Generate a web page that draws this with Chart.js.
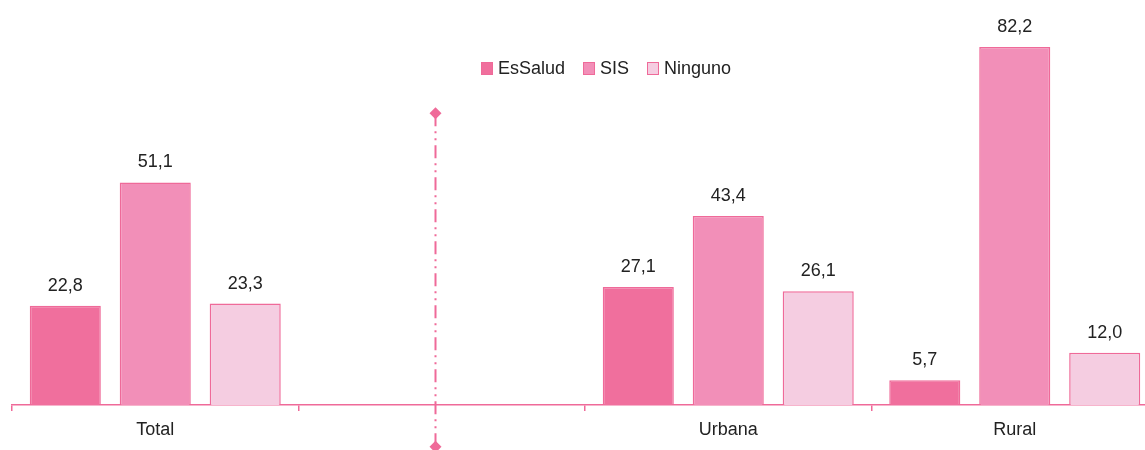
<!DOCTYPE html>
<html>
<head>
<meta charset="utf-8">
<script src="https://cdn.jsdelivr.net/npm/chart.js@4.4.1/dist/chart.umd.min.js"></script>
<style>
  html, body { margin: 0; padding: 0; background: #fff; overflow: hidden; }
  #wrap { position: relative; width: 1145px; height: 450px; overflow: hidden; }
  #myChart { position: absolute; left: 0; top: 0; }
  #legend { position: absolute; left: 481px; top: 58px; display: flex; align-items: center;
            font: 18px 'Liberation Sans', Arial, sans-serif; color: #222; }
  #legend .item { display: flex; align-items: center; margin-right: 18px; }
  #legend .box { width: 10px; height: 11px; border: 1px solid #ef6a99; margin-right: 5px; }
</style>
</head>
<body>
<div id="wrap">
  <canvas id="myChart" width="1158" height="450"></canvas>
  <div id="legend"></div>
</div>
<script>
// Data
const categories = ['Total', '', 'Urbana', 'Rural'];
const seriesNames = ['EsSalud', 'SIS', 'Ninguno'];
const esSalud = [22.8, null, 27.1, 5.7];
const sis = [51.1, null, 43.4, 82.2];
const ninguno = [23.3, null, 26.1, 12.0];

// dash-dot divider in the empty slot (category units / value units)
const dividerX = 1.476;
const dividerTop = 67;
const dividerBottom = -9.6;

const pink = '#ef6a99';
const colors = ['#f06f9d', '#f28fb8', '#f5cde1'];
const fontFamily = "'Liberation Sans', Arial, sans-serif";
const labelFont = "18px " + fontFamily;

// Value labels above bars, decimal comma
const valueLabels = {
    id: 'valueLabels',
    afterDatasetsDraw(chart) {
        const ctx = chart.ctx;
        ctx.save();
        ctx.font = labelFont;
        ctx.fillStyle = '#222';
        ctx.textAlign = 'center';
        ctx.textBaseline = 'alphabetic';
        chart.data.datasets.forEach((ds, i) => {
            chart.getDatasetMeta(i).data.forEach((bar, j) => {
                const v = ds.data[j];
                if (v == null) return;
                ctx.fillText(v.toFixed(1).replace('.', ','), bar.x, bar.y - 15);
            });
        });
        ctx.restore();
    }
};

// Dash-dot divider with diamond ends, placed through the scales
const divider = {
    id: 'divider',
    afterDraw(chart) {
        const xs = chart.scales.x, ys = chart.scales.y;
        const step = xs.getPixelForValue(1) - xs.getPixelForValue(0);
        const x = Math.round(xs.getPixelForValue(0) + (dividerX - 0.5) * step) + 0.5;
        const y1 = ys.getPixelForValue(dividerTop);
        const y2 = ys.getPixelForValue(dividerBottom);
        const ctx = chart.ctx;
        ctx.save();
        ctx.strokeStyle = pink;
        ctx.lineWidth = 2;
        ctx.setLineDash([13, 5, 2, 5, 2, 5]);
        ctx.beginPath();
        ctx.moveTo(x, y1);
        ctx.lineTo(x, y2);
        ctx.stroke();
        ctx.setLineDash([]);
        ctx.fillStyle = pink;
        [y1, y2].forEach(y => {
            ctx.beginPath();
            ctx.moveTo(x, y - 6);
            ctx.lineTo(x + 6, y);
            ctx.lineTo(x, y + 6);
            ctx.lineTo(x - 6, y);
            ctx.closePath();
            ctx.fill();
        });
        ctx.restore();
    }
};

const barSets = [esSalud, sis, ninguno].map((vals, i) => ({
    label: seriesNames[i],
    data: vals,
    backgroundColor: colors[i],
    borderColor: pink,
    borderWidth: 1.5
}));

const chart = new Chart(document.getElementById('myChart'), {
    type: 'bar',
    data: {
        labels: categories,
        datasets: barSets
    },
    options: {
        responsive: false,
        animation: false,
        devicePixelRatio: 1,
        categoryPercentage: 0.942,
        barPercentage: 0.79,
        layout: { padding: { left: 12, right: 0, top: 0, bottom: 0 } },
        scales: {
            x: {
                grid: { display: true, drawOnChartArea: false, drawTicks: true, tickLength: 6, color: pink, lineWidth: 1.5 },
                border: { display: true, color: pink, width: 1.5 },
                ticks: { color: '#222', font: { family: fontFamily, size: 18 }, padding: 8, maxRotation: 0, autoSkip: false },
                afterFit(scale) { scale.height = 45; }
            },
            y: { display: false, min: 0, max: 93 }
        },
        plugins: {
            legend: { display: false },
            tooltip: { enabled: false }
        }
    },
    plugins: [valueLabels, divider]
});

// HTML legend built from the bar datasets
const legendEl = document.getElementById('legend');
barSets.forEach(ds => {
    const item = document.createElement('span');
    item.className = 'item';
    const box = document.createElement('span');
    box.className = 'box';
    box.style.background = ds.backgroundColor;
    item.appendChild(box);
    item.appendChild(document.createTextNode(ds.label));
    legendEl.appendChild(item);
});
</script>
</body>
</html>
